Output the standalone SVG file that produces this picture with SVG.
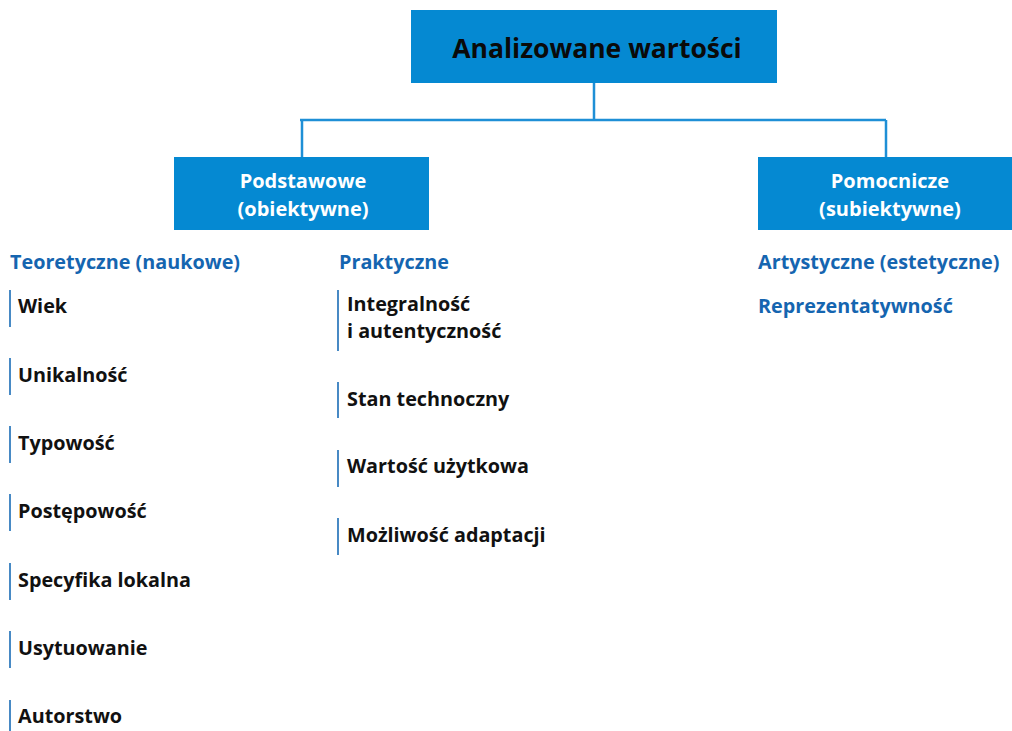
<svg xmlns="http://www.w3.org/2000/svg" width="1012" height="731" viewBox="0 0 1012 731">
<style>
.box{fill:#0589d2}
.conn{stroke:#1e8fd6;stroke-width:2.5;fill:none}
.bar{stroke:#1a6cb6;stroke-width:1.6}
text{font-family:"Open Sans","Noto Sans","Liberation Sans",sans-serif;font-weight:700}
.title{font-size:26.5px;fill:#0a0a0a;text-anchor:middle}
.bt{font-size:20px;fill:#ffffff;text-anchor:middle}
.h{font-size:19.8px;fill:#1565b0}
.it{font-size:19.8px;fill:#111111}
</style>
<rect width="1012" height="731" fill="#ffffff"/>
<g id="connectors">
<path class="conn" d="M594 83 V120 M300 120 H886 M302 120 V157 M886 120 V157"/>
</g>
<g id="root">
<rect class="box" x="411" y="10" width="366" height="73"/>
<text class="title" x="597" y="58">Analizowane wartości</text>
</g>
<g id="podstawowe">
<rect class="box" x="174" y="157" width="255" height="73"/>
<text class="bt" x="303" y="188">Podstawowe<tspan x="303" y="216">(obiektywne)</tspan></text>
</g>
<g id="pomocnicze">
<rect class="box" x="758" y="157" width="254" height="73"/>
<text class="bt" x="890" y="188">Pomocnicze<tspan x="890" y="216">(subiektywne)</tspan></text>
</g>
<g id="teoretyczne">
<text class="h" x="10" y="269">Teoretyczne (naukowe)</text>
<line class="bar" x1="10" y1="290" x2="10" y2="327"/><text class="it" x="18" y="313">Wiek</text>
<line class="bar" x1="10" y1="358" x2="10" y2="395"/><text class="it" x="18" y="382">Unikalność</text>
<line class="bar" x1="10" y1="426" x2="10" y2="463"/><text class="it" x="18" y="450">Typowość</text>
<line class="bar" x1="10" y1="494" x2="10" y2="531"/><text class="it" x="18" y="518">Postępowość</text>
<line class="bar" x1="10" y1="563" x2="10" y2="600"/><text class="it" x="18" y="587">Specyfika lokalna</text>
<line class="bar" x1="10" y1="631" x2="10" y2="668"/><text class="it" x="18" y="655">Usytuowanie</text>
<line class="bar" x1="10" y1="700" x2="10" y2="731"/><text class="it" x="18" y="723">Autorstwo</text>
</g>
<g id="praktyczne">
<text class="h" x="339" y="269">Praktyczne</text>
<line class="bar" x1="338" y1="290" x2="338" y2="351"/><text class="it" x="347" y="311">Integralność</text><text class="it" x="347" y="338">i autentyczność</text>
<line class="bar" x1="338" y1="382" x2="338" y2="418"/><text class="it" x="347" y="406">Stan technoczny</text>
<line class="bar" x1="338" y1="450" x2="338" y2="487"/><text class="it" x="347" y="473">Wartość użytkowa</text>
<line class="bar" x1="338" y1="518" x2="338" y2="555"/><text class="it" x="347" y="542">Możliwość adaptacji</text>
</g>
<g id="pomocnicze-list">
<text class="h" x="758" y="269">Artystyczne (estetyczne)</text>
<text class="h" x="758" y="313">Reprezentatywność</text>
</g>
</svg>
